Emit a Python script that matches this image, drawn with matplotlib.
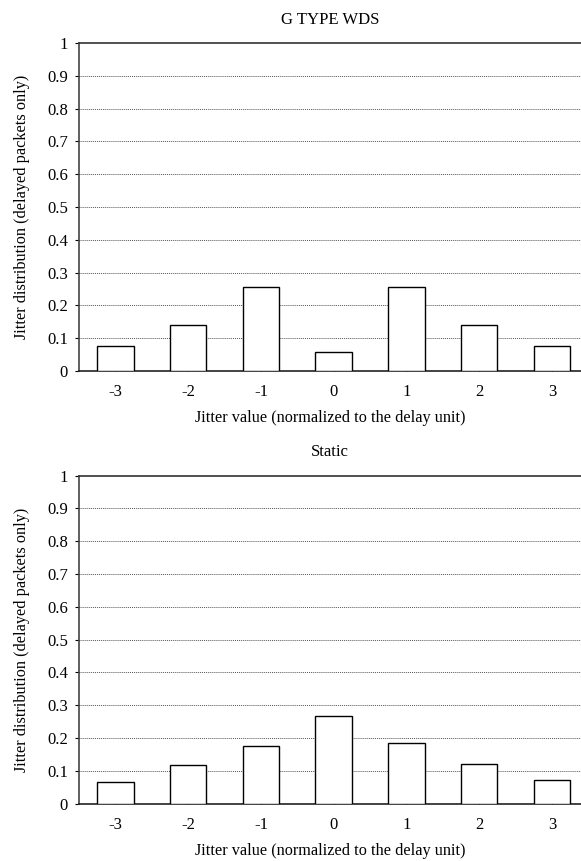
import numpy as np
import matplotlib.pyplot as plt

plt.rcParams['font.family'] = ['Liberation Serif', 'DejaVu Serif']

jitter = ['-3', '-2', '-1', '0', '1', '2', '3']
g_type_wds = [0.075, 0.14, 0.257, 0.057, 0.257, 0.14, 0.075]
static = [0.066, 0.118, 0.175, 0.266, 0.185, 0.12, 0.071]
titles = ['G TYPE WDS', 'Static']

fig = plt.figure(figsize=(5.81, 8.61), dpi=100)
ax_top = fig.add_axes([0.136, 0.569, 0.864, 0.381])
ax_bot = fig.add_axes([0.136, 0.0666, 0.864, 0.381])

x = np.arange(len(jitter))
for ax, vals, title in zip([ax_top, ax_bot], [g_type_wds, static], titles):
    ax.bar(x, vals, width=0.5, facecolor='white', edgecolor='black', linewidth=1.0, zorder=3)
    ax.set_xlim(-0.5, 6.4)
    ax.set_ylim(0, 1)
    ax.set_yticks(np.arange(0, 1.01, 0.1))
    ax.set_yticklabels(['0'] + ['%.1f' % v for v in np.arange(0.1, 0.95, 0.1)] + ['1'])
    ax.set_xticks(x)
    ax.set_xticklabels(jitter)
    # dotted grid lines
    for v in np.arange(0.1, 0.95, 0.1):
        ax.axhline(v, color='#555555', linestyle=(0, (1, 1)), linewidth=0.7, zorder=1)
    ax.spines['right'].set_visible(False)
    ax.spines['top'].set_color('#333333')
    ax.spines['left'].set_color('#444444')
    ax.spines['bottom'].set_color('#222222')
    for s in ['top', 'left', 'bottom']:
        ax.spines[s].set_linewidth(1.2)
    ax.tick_params(axis='x', direction='in', length=4, width=0.8, labelsize=12, pad=9.5)
    ax.tick_params(axis='y', direction='out', length=3, width=0.8, labelsize=12, pad=5)
    ax.set_xlabel('Jitter value (normalized to the delay unit)', fontsize=11.7, labelpad=7)
    ax.set_ylabel('Jitter distribution (delayed packets only)', fontsize=11.7, labelpad=12)
    ax.set_title(title, fontsize=12, pad=14)

fig.savefig('out.png', dpi=100)
